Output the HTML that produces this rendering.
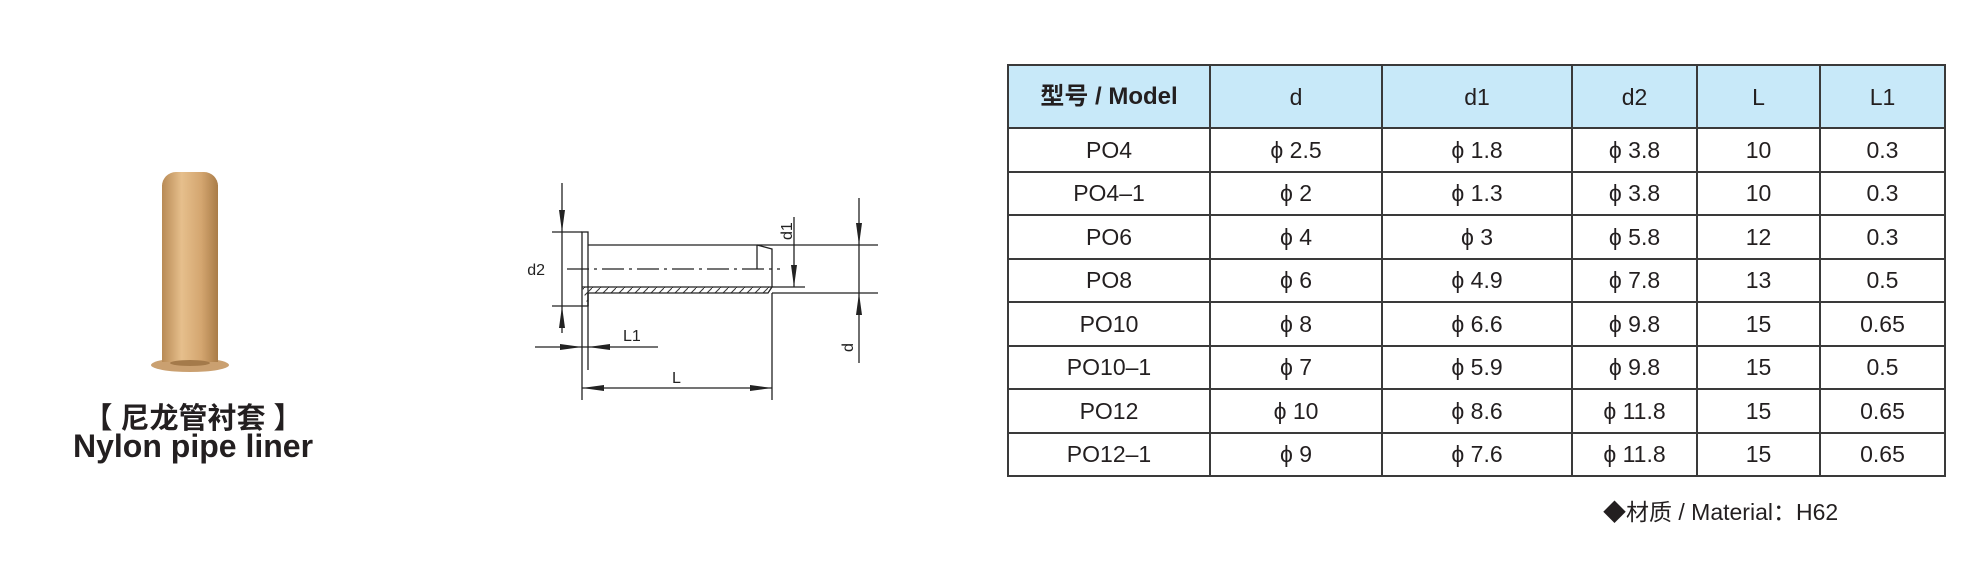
<!DOCTYPE html>
<html><head><meta charset="utf-8"><style>
html,body{margin:0;padding:0;background:#fff;}
body{width:1977px;height:569px;position:relative;overflow:hidden;font-family:"Liberation Sans","Noto Sans CJK SC",sans-serif;color:#231f20;}
table{position:absolute;left:1007px;top:64px;border-collapse:collapse;}
td{border:2px solid #3a3a3a;text-align:center;font-size:23px;height:41.5px;padding:0;line-height:24px;}
tr.h td{background:#c8e9f9;height:61px;}
tr.h td:first-child{font-weight:bold;font-size:24px;}
.mat{position:absolute;left:1603px;top:493px;font-size:23px;}
.t1{position:absolute;left:60px;width:266px;text-align:center;top:395px;font-size:29px;font-weight:bold;}
.t2{position:absolute;left:60px;width:266px;text-align:center;top:428px;font-size:32px;font-weight:bold;}
</style></head><body>
<svg width="1977" height="569" style="position:absolute;left:0;top:0">
<defs>
<linearGradient id="g" x1="0" x2="1"><stop offset="0" stop-color="#b88a55"/><stop offset="0.35" stop-color="#e6bf8c"/><stop offset="0.7" stop-color="#d4a670"/><stop offset="1" stop-color="#a97c48"/></linearGradient>
<pattern id="h" width="8" height="8" patternUnits="userSpaceOnUse"><path d="M0 8L8 0" stroke="#333" stroke-width="1"/></pattern>
</defs>
<ellipse cx="190" cy="365" rx="39" ry="7" fill="#caa070"/>
<rect x="162" y="172" width="56" height="190" rx="14" fill="url(#g)"/>
<rect x="162" y="185" width="56" height="177" fill="url(#g)"/>
<ellipse cx="190" cy="363" rx="20" ry="3" fill="#a47a4a"/>
<g stroke="#222" stroke-width="1.3" fill="none">
<rect x="582" y="232" width="6" height="74" fill="#fff"/>
<path d="M588 245H757L772 249V287"/>
<path d="M757 245V269"/>
<path d="M567 269H780" stroke-dasharray="22,5,3,5"/>
<path d="M582 287H772L768 293H588V306" fill="url(#h)"/>
<path d="M562 183V333M552 232H582M552 306H582"/>
<path d="M794 217V287M772 287H805"/>
<path d="M859 198V363M757 245H878M772 293H878"/>
<path d="M535 347H658M588 293V370M582 306V400"/>
<path d="M582 388H772M772 293V400"/>
</g>
<g fill="#222">
<path d="M562 232L559 210H565Z"/><path d="M562 306L559 328H565Z"/>
<path d="M794 287L791 265H797Z"/>
<path d="M859 245L856 223H862Z"/><path d="M859 293L856 315H862Z"/>
<path d="M582 347L560 344V350Z"/><path d="M588 347L610 344V350Z"/>
<path d="M582 388L604 385V391Z"/><path d="M772 388L750 385V391Z"/>
</g>
<g font-family="Liberation Sans" font-size="16" fill="#222">
<text x="545" y="275" text-anchor="end">d2</text>
<text x="623" y="341">L1</text>
<text x="672" y="383">L</text>
<text transform="translate(792,240) rotate(-90)">d1</text>
<text transform="translate(853,352) rotate(-90)">d</text>
</g>
</svg>
<div class="t1">【 尼龙管衬套 】</div>
<div class="t2">Nylon pipe liner</div>
<table>
<colgroup><col style="width:202px"><col style="width:172px"><col style="width:190px"><col style="width:125px"><col style="width:123px"><col style="width:125px"></colgroup>
<tr class="h"><td>型号 / Model</td><td>d</td><td>d1</td><td>d2</td><td>L</td><td>L1</td></tr>
<tr><td>PO4</td><td>ϕ 2.5</td><td>ϕ 1.8</td><td>ϕ 3.8</td><td>10</td><td>0.3</td></tr>
<tr><td>PO4–1</td><td>ϕ 2</td><td>ϕ 1.3</td><td>ϕ 3.8</td><td>10</td><td>0.3</td></tr>
<tr><td>PO6</td><td>ϕ 4</td><td>ϕ 3</td><td>ϕ 5.8</td><td>12</td><td>0.3</td></tr>
<tr><td>PO8</td><td>ϕ 6</td><td>ϕ 4.9</td><td>ϕ 7.8</td><td>13</td><td>0.5</td></tr>
<tr><td>PO10</td><td>ϕ 8</td><td>ϕ 6.6</td><td>ϕ 9.8</td><td>15</td><td>0.65</td></tr>
<tr><td>PO10–1</td><td>ϕ 7</td><td>ϕ 5.9</td><td>ϕ 9.8</td><td>15</td><td>0.5</td></tr>
<tr><td>PO12</td><td>ϕ 10</td><td>ϕ 8.6</td><td>ϕ 11.8</td><td>15</td><td>0.65</td></tr>
<tr><td>PO12–1</td><td>ϕ 9</td><td>ϕ 7.6</td><td>ϕ 11.8</td><td>15</td><td>0.65</td></tr>
</table>
<div class="mat">◆材质 / Material：H62</div>
</body></html>
